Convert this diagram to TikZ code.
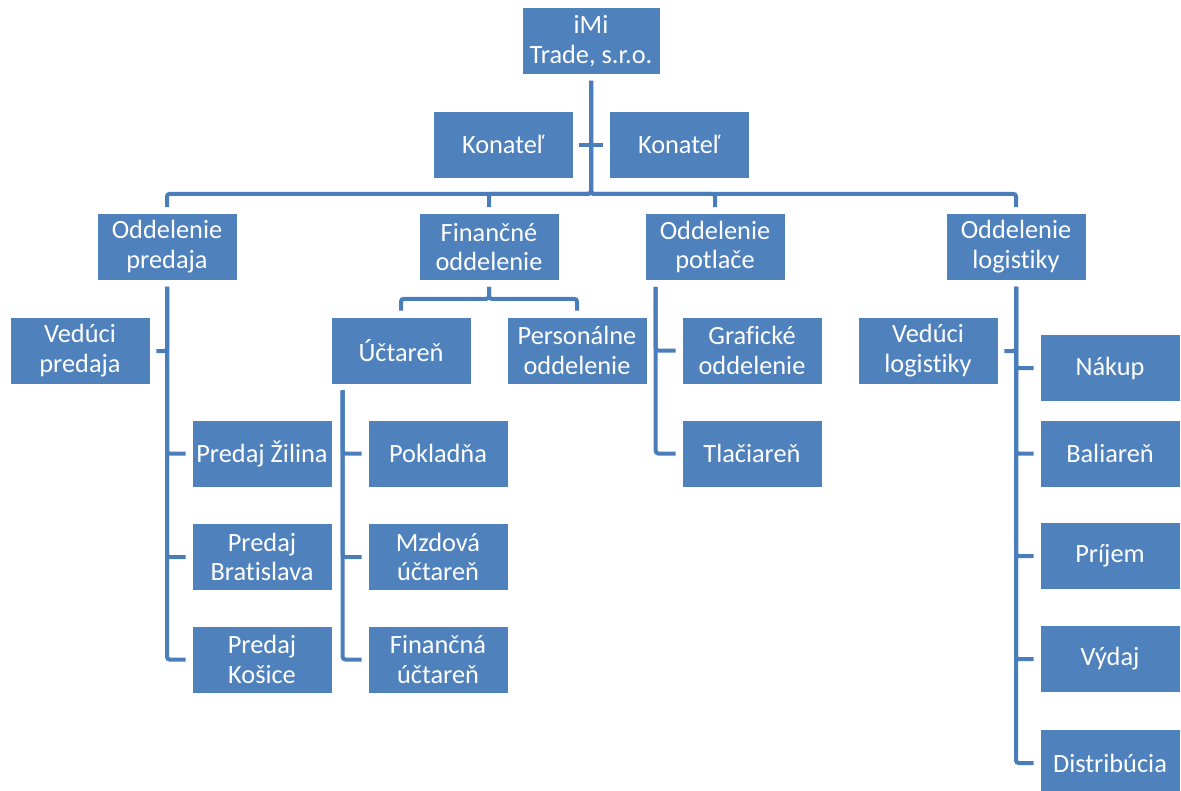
\documentclass[tikz,border=0pt]{standalone}
\usepackage{fontspec}
\setmainfont{Carlito}[Ligatures={NoCommon}]
\definecolor{boxblue}{HTML}{4F81BD}
\definecolor{lineblue}{HTML}{4A7EBB}
\tikzset{
  unit/.style={draw=white, line width=0.4pt, fill=boxblue, text=white, align=center,
    minimum width=2.8cm, minimum height=1.34cm, inner sep=0pt,
    font=\fontsize{15}{17}\selectfont},
  conn/.style={draw=lineblue, line width=0.08cm, shorten <=0.12cm, shorten >=0.12cm,
    rounded corners=1.5pt}
}

\begin{document}
\begin{tikzpicture}[x=0.02cm, y=-0.02cm]
    \path[use as bounding box, clip] (0,0) rectangle (1181,791);
    \node[unit, minimum width=2.76cm] (imi) at (591,41) {iMi\\Trade, s.r.o.};
    \node[unit] (kon1) at (503,144.5) {Konateľ};
    \node[unit] (kon2) at (679,144.5) {Konateľ};
    \node[unit] (pred) at (167,247) {Oddelenie\\predaja};
    \node[unit] (fin) at (489,247) {Finančné\\oddelenie};
    \node[unit] (potl) at (715,247) {Oddelenie\\potlače};
    \node[unit] (logi) at (1016,247) {Oddelenie\\logistiky};
    \node[unit] (vpred) at (80,351) {Vedúci\\predaja};
    \node[unit] (zil) at (262,453.5) {Predaj Žilina};
    \node[unit] (bra) at (262,557) {Predaj\\Bratislava};
    \node[unit] (kos) at (262,659.5) {Predaj\\Košice};
    \node[unit] (uct) at (401,350.5) {Účtareň};
    \node[unit] (pers) at (577,350.5) {Personálne\\oddelenie};
    \node[unit] (pok) at (438,453.5) {Pokladňa};
    \node[unit] (mzd) at (438,557) {Mzdová\\účtareň};
    \node[unit] (finu) at (438,659.5) {Finančná\\účtareň};
    \node[unit] (graf) at (752,350.5) {Grafické\\oddelenie};
    \node[unit] (tlac) at (752,453.5) {Tlačiareň};
    \node[unit] (vlog) at (928,351) {Vedúci\\logistiky};
    \node[unit] (nak) at (1110,368) {Nákup};
    \node[unit] (bal) at (1110,453.5) {Baliareň};
    \node[unit] (pri) at (1110,556) {Príjem};
    \node[unit] (vyd) at (1110,659) {Výdaj};
    \node[unit] (dis) at (1110,763) {Distribúcia};
    \draw[conn] (imi.south) -- ++(0,119) -| (pred.north);
    \draw[conn] (imi.south) -- ++(0,119) -| (fin.north);
    \draw[conn] (imi.south) -- ++(0,119) -| (potl.north);
    \draw[conn] (imi.south) -- ++(0,119) -| (logi.north);
    \draw[conn] (kon1.east) -- (kon2.west);
    \draw[conn] (pred.south) |- (vpred.east);
    \draw[conn] (pred.south) |- (zil.west);
    \draw[conn] (pred.south) |- (bra.west);
    \draw[conn] (pred.south) |- (kos.west);
    \draw[conn] (fin.south) -- ++(0,18) -| (uct.north);
    \draw[conn] (fin.south) -- ++(0,18) -| (pers.north);
    \draw[conn] ([xshift=0.24cm]uct.south west) |- (pok.west);
    \draw[conn] ([xshift=0.24cm]uct.south west) |- (mzd.west);
    \draw[conn] ([xshift=0.24cm]uct.south west) |- (finu.west);
    \draw[conn] ([xshift=0.22cm]potl.south west) |- (graf.west);
    \draw[conn] ([xshift=0.22cm]potl.south west) |- (tlac.west);
    \draw[conn] (logi.south) |- (vlog.east);
    \draw[conn] (logi.south) |- (nak.west);
    \draw[conn] (logi.south) |- (bal.west);
    \draw[conn] (logi.south) |- (pri.west);
    \draw[conn] (logi.south) |- (vyd.west);
    \draw[conn] (logi.south) |- (dis.west);
\end{tikzpicture}
\end{document}
